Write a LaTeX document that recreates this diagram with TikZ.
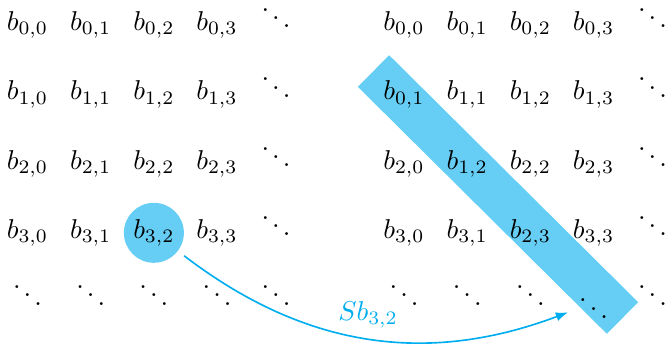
\documentclass[tikz,border=0pt]{standalone}
\usetikzlibrary{arrows.meta}
\definecolor{procyan}{RGB}{0,174,239}
\begin{document}
\begin{tikzpicture}[every node/.style={anchor=base}]
  \useasboundingbox (0,0) rectangle (8.604,-4.45);
  \def\cx{0.815}\def\cy{0.893}

  % Matrix B
  \begin{scope}[xshift=0cm]
    \node[circle,fill=procyan!60,minimum size=0.774cm,anchor=center] (hl) at (1.985,-3.003) {};
    \foreach \i in {0,...,3}
      \foreach \j in {0,...,3}
        \node (L-\i-\j) at (0.355+\j*\cx,-0.396-\i*\cy) {$b_{\i,\j}$};
    \foreach \i in {0,...,3}
      \node (L-\i-4) at (3.56,-0.396-\i*\cy) {$\ddots$};
    \foreach \j in {0,...,3}
      \node (L-4-\j) at (0.355+\j*\cx,-3.97) {$\ddots$};
    \node (L-4-4) at (3.56,-3.97) {$\ddots$};
  \end{scope}

  % Matrix SB
  \begin{scope}[xshift=4.857cm]
    \draw[procyan!60,line width=0.574cm] (-0.039,-0.916) -- (3.173,-4.102);
    \foreach \i in {0,...,3}
      \foreach \j in {0,...,3}{
        \pgfmathtruncatemacro\dd{\i-\j}
        \ifnum\dd=1
          \node (R-\i-\j) at (0.355+\j*\cx,-0.396-\i*\cy) {$b_{\j,\i}$};
        \else
          \node (R-\i-\j) at (0.355+\j*\cx,-0.396-\i*\cy) {$b_{\i,\j}$};
        \fi
      }
    \foreach \i in {0,...,3}
      \node (R-\i-4) at (3.56,-0.396-\i*\cy) {$\ddots$};
    \foreach \j in {0,...,2}
      \node (R-4-\j) at (0.355+\j*\cx,-3.97) {$\ddots$};
    \node (R-4-3) at (0.355+3*\cx,-4.14) {$\ddots$};
    \node (R-4-4) at (3.56,-3.97) {$\ddots$};
  \end{scope}

  \draw[procyan,semithick,-{Latex[length=4.5pt]}] (L-3-2.south east) to[bend right=29]
    node[above] {$Sb_{3,2}$} (R-4-3.-155);
\end{tikzpicture}
\end{document}
